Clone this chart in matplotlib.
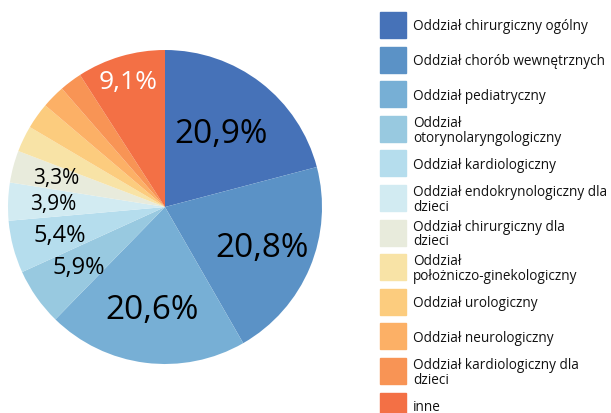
import numpy as np
import matplotlib.pyplot as plt
from matplotlib.patches import Rectangle

plt.rcParams['font.family'] = ['Open Sans', 'DejaVu Sans']

names = ['Oddział chirurgiczny ogólny', 'Oddział chorób wewnętrznych',
         'Oddział pediatryczny', 'Oddział\notorynolaryngologiczny',
         'Oddział kardiologiczny', 'Oddział endokrynologiczny dla\ndzieci',
         'Oddział chirurgiczny dla\ndzieci', 'Oddział\npołożniczo-ginekologiczny',
         'Oddział urologiczny', 'Oddział neurologiczny',
         'Oddział kardiologiczny dla\ndzieci', 'inne']
shares = [20.9, 20.8, 20.6, 5.9, 5.4, 3.9, 3.3, 2.7, 2.7, 2.4, 2.3, 9.1]
colors = ['#4672b8', '#5b92c6', '#77afd5', '#98c9e0', '#b5dded', '#d2ebf2',
          '#e8ebdc', '#f8e3a6', '#fccc7e', '#fcb066', '#f89455', '#f37045']

# which slices get a percentage label: index -> (radius fraction, font size, colour)
shown = {0: (0.59, 24, 'black'), 1: (0.67, 24, 'black'), 2: (0.66, 24, 'black'),
         3: (0.67, 17, 'black'), 4: (0.69, 17, 'black'), 5: (0.71, 15, 'black'),
         6: (0.72, 15, 'black'), 11: (0.835, 19, 'white')}

W, H = 611, 414
fig = plt.figure(figsize=(W / 100, H / 100), dpi=100)
cx, cy, r = 165, 208, 157
ax = fig.add_axes([(cx - r) / W, (H - cy - r) / H, 2 * r / W, 2 * r / H])
wedges, _ = ax.pie(shares, colors=colors, startangle=90, counterclock=False,
                   radius=1, wedgeprops=dict(linewidth=0))
ax.set_xlim(-1, 1)
ax.set_ylim(-1, 1)
ax.set_aspect('equal')
ax.axis('off')

for i, (frac, fs, col) in shown.items():
    w = wedges[i]
    mid = np.deg2rad((w.theta1 + w.theta2) / 2)
    label = f'{shares[i]:.1f}%'.replace('.', ',')
    ax.text(frac * np.cos(mid), frac * np.sin(mid), label, ha='center',
            va='center', fontsize=fs, color=col)

# legend
top0, step = 13, 34.6
for i, name in enumerate(names):
    top = top0 + i * step
    fig.patches.append(Rectangle((380 / W, 1 - (top + 26) / H), 26 / W, 26 / H,
                                 transform=fig.transFigure, color=colors[i]))
    fig.text(413 / W, 1 - (top + 14) / H, name, fontsize=9.8, va='center',
             ha='left', linespacing=0.95, color='#111111')

fig.savefig('out.png', dpi=100)
